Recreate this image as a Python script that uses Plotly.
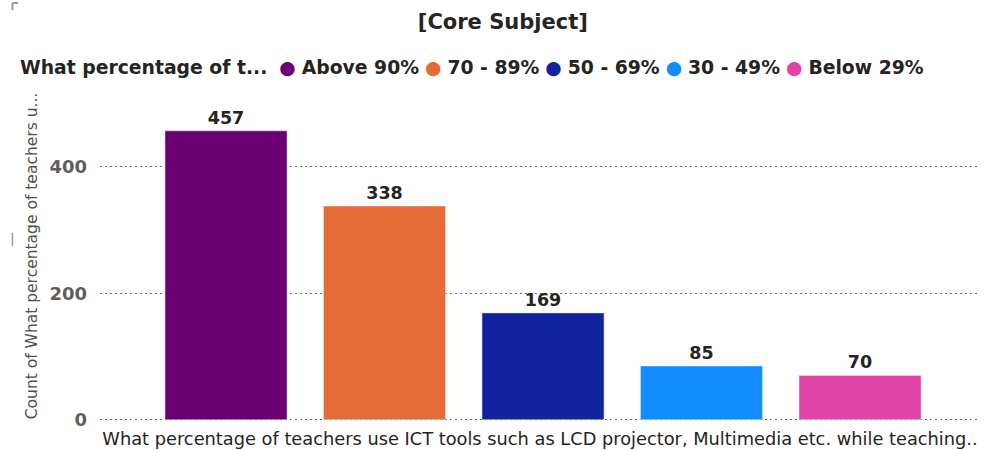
import plotly.graph_objects as go

categories = ["Above 90%", "70 - 89%", "50 - 69%", "30 - 49%", "Below 29%"]
counts = [457, 338, 169, 85, 70]
colors = ["#6B0073", "#E56C37", "#12239E", "#118DFF", "#E044A7"]
y_ticks = [0, 200, 400]
legend_title = "What percentage of t..."

fig = go.Figure()
for cat, val, col in zip(categories, counts, colors):
    fig.add_trace(go.Bar(
        x=[cat], y=[val], name=cat, marker_color=col, width=0.77,
        text=[str(val)], textposition="outside",
        textfont=dict(size=17.5, color="#252423", family="DejaVu Sans", weight="bold"),
        cliponaxis=False, showlegend=False, hoverinfo="x+y",
    ))

# legend line built as real text (title + coloured dots + category names)
legend_parts = ["<b>" + legend_title + "</b>&nbsp;"]
for cat, col in zip(categories, colors):
    legend_parts.append("<span style='color:%s'>●</span> <b>%s</b>" % (col, cat))
legend_text = " ".join(legend_parts)

fig.add_annotation(
    text=legend_text, xref="paper", yref="paper", x=-0.0935, y=1.07,
    xanchor="left", yanchor="middle", showarrow=False,
    font=dict(size=18.8, color="#252423", family="DejaVu Sans"),
)

fig.update_layout(
    width=984, height=450,
    margin=dict(l=100, r=4, t=91, b=29),
    paper_bgcolor="white", plot_bgcolor="white",
    title=dict(text="[Core Subject]", x=0.511, xanchor="center", y=0.951, yanchor="middle",
               font=dict(size=21, color="#252423", family="DejaVu Sans", weight="bold")),
    showlegend=False,
    shapes=[
        dict(type="line", xref="paper", yref="paper", x0=-0.0995, x1=-0.093, y0=1.267, y1=1.267,
             line=dict(color="#9a9a9a", width=2)),
        dict(type="line", xref="paper", yref="paper", x0=-0.0995, x1=-0.0995, y0=1.267, y1=1.245,
             line=dict(color="#9a9a9a", width=2)),
        dict(type="line", xref="paper", yref="paper", x0=-0.0995, x1=-0.0995, y0=0.57, y1=0.53,
             line=dict(color="#9a9a9a", width=1.5)),
    ],
)
fig.update_xaxes(
    categoryorder="array", categoryarray=categories,
    range=[-0.795, 4.757], showticklabels=False, showgrid=False, zeroline=False,
    title=dict(text="What percentage of teachers use ICT tools such as LCD projector, Multimedia etc. while teaching..",
               font=dict(size=17.8, color="#252423", family="DejaVu Sans"), standoff=11),
)
fig.update_yaxes(
    range=[-2, 520], tickvals=y_ticks, ticktext=[str(v) for v in y_ticks],
    showgrid=True, gridcolor="#6a6a6a", griddash="2px,3px", gridwidth=1.4,
    zeroline=False,
    tickfont=dict(size=18, color="#605E5C", family="DejaVu Sans", weight="bold"),
    ticks="", ticklabelstandoff=12,
    title=dict(text="Count of What percentage of teachers u...",
               font=dict(size=15.5, color="#505050", family="DejaVu Sans"), standoff=7),
)

fig.write_html("out.html", config={"displayModeBar": False},
               post_script="document.body.style.margin='0px';")
